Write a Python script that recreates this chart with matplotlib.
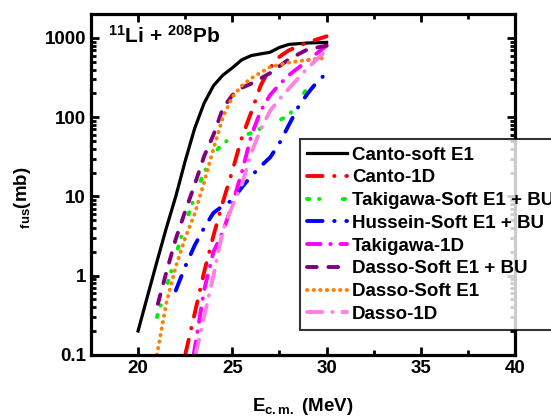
import matplotlib
matplotlib.use("Agg")
import matplotlib.pyplot as plt
from matplotlib.ticker import MultipleLocator, LogLocator, NullFormatter, FixedFormatter, FixedLocator

plt.rcParams["font.family"] = ["Liberation Sans", "DejaVu Sans"]
plt.rcParams["font.weight"] = "bold"
plt.rcParams["mathtext.fontset"] = "custom"
plt.rcParams["mathtext.rm"] = "Liberation Sans:bold"
plt.rcParams["mathtext.bf"] = "Liberation Sans:bold"
plt.rcParams["mathtext.it"] = "Liberation Sans:bold"
plt.rcParams["lines.dash_capstyle"] = "round"

# Canto-soft E1
canto_soft_x = [20, 20.5, 21, 21.5, 22, 22.5, 23, 23.5, 24, 24.5, 25, 25.5, 26, 26.5, 27, 27.5, 28, 29, 30]
canto_soft_y = [0.2, 0.55, 1.5, 4.0, 10, 28, 72, 150, 250, 340, 420, 530, 600, 630, 660, 760, 830, 865, 880]

# Canto-1D
canto_1d_x = [22.5, 23, 23.5, 24, 24.5, 25, 25.5, 26, 26.5, 27, 27.5, 28, 29, 30]
canto_1d_y = [0.1, 0.33, 1.1, 3.2, 8.5, 21, 55, 115, 250, 420, 580, 700, 880, 1050]

# Takigawa-Soft E1 + BU
tak_soft_x = [21.0, 21.5, 22, 22.5, 23, 23.5, 24, 24.5, 25, 25.5, 26, 26.5, 27, 27.5, 28, 28.5, 29.1]
tak_soft_y = [0.3, 0.7, 1.8, 4.5, 10, 20, 34, 47, 55, 58, 63, 72, 82, 92, 105, 160, 255]

# Hussein-Soft E1 + BU
hus_x = [22, 22.5, 23, 23.5, 24, 24.5, 25, 25.5, 26, 26.5, 27, 27.5, 28, 28.5, 29, 29.5, 30]
hus_y = [0.65, 1.3, 2.4, 4.0, 6.2, 7.6, 9.0, 13, 18, 24, 31, 47, 80, 135, 200, 280, 360]

# Takigawa-1D
tak_1d_x = [22.95, 23.5, 24, 24.5, 25, 25.5, 26, 26.5, 27, 27.5, 28, 29, 30]
tak_1d_y = [0.1, 0.65, 2.0, 3.6, 8.0, 20, 58, 120, 190, 260, 340, 520, 800]

# Dasso-Soft E1 + BU
dasso_soft_bu_x = [21.05, 21.5, 22, 22.5, 23, 23.5, 24, 24.5, 25, 25.5, 26, 27, 28, 29, 30]
dasso_soft_bu_y = [0.44, 1.1, 2.9, 6.5, 14, 32, 60, 130, 190, 235, 265, 360, 540, 720, 800]

# Dasso-Soft E1
dasso_soft_x = [21.0, 21.5, 22, 22.5, 23, 23.5, 24, 24.5, 25, 25.5, 26, 27, 28, 29, 30]
dasso_soft_y = [0.1, 0.45, 1.3, 3.0, 6.0, 15, 40, 100, 180, 250, 310, 430, 490, 530, 560]

# Dasso-1D
dasso_1d_x = [23.05, 23.5, 24, 24.5, 25, 25.5, 26, 26.5, 27, 27.5, 28, 29, 30]
dasso_1d_y = [0.1, 0.3, 1.0, 3.8, 7.5, 14, 35, 70, 120, 170, 230, 420, 700]

fig = plt.figure(figsize=(5.51, 4.16), dpi=100)
ax = fig.add_axes([0.165, 0.147, 0.77, 0.819])

lw = 2.8
ax.plot(canto_soft_x, canto_soft_y, color="black", lw=2.3, ls="-", label="Canto-soft E1")
ax.plot(canto_1d_x, canto_1d_y, color="#ff0000", lw=lw, ls=(0, (4, 3, 0.1, 3)), label="Canto-1D")
ax.plot(tak_soft_x, tak_soft_y, color="#00ee00", lw=lw, ls=(0, (0.6, 2.5, 0.1, 6)), label="Takigawa-Soft E1 + BU")
ax.plot(hus_x, hus_y, color="#0000ff", lw=lw, ls=(0, (4, 3, 0.1, 3)), label="Hussein-Soft E1 + BU")
ax.plot(tak_1d_x, tak_1d_y, color="#ff00ff", lw=lw, ls=(0, (3.5, 2.5, 0.1, 2.5)), label="Takigawa-1D")
ax.plot(dasso_soft_bu_x, dasso_soft_bu_y, color="#800080", lw=lw, ls=(0, (2.5, 3)), label="Dasso-Soft E1 + BU")
ax.plot(dasso_soft_x, dasso_soft_y, color="#ff8000", lw=lw, ls=(0, (0.1, 1.6)), label="Dasso-Soft E1")
ax.plot(dasso_1d_x, dasso_1d_y, color="#ff80e0", lw=lw, ls=(0, (4, 2.5, 0.1, 2.5)), label="Dasso-1D")

ax.set_yscale("log")
ax.set_xlim(17.5, 40)
ax.set_ylim(0.1, 2000)

ax.xaxis.set_major_locator(MultipleLocator(5))
ax.xaxis.set_minor_locator(MultipleLocator(2.5))
ax.yaxis.set_major_locator(FixedLocator([0.1, 1, 10, 100, 1000]))
ax.yaxis.set_major_formatter(FixedFormatter(["0.1", "1", "10", "100", "1000"]))
ax.yaxis.set_minor_locator(LogLocator(base=10, subs=range(2, 10)))
ax.yaxis.set_minor_formatter(NullFormatter())

ax.tick_params(which="both", direction="in", top=True, right=True, labelsize=13.5, width=2)
ax.tick_params(which="major", length=6)
ax.tick_params(which="minor", length=3.5)
for sp in ax.spines.values():
    sp.set_linewidth(2.3)

ax.set_xlabel(r"E$_{\mathbf{c.m.}}$ (MeV)", fontsize=13.5, fontweight="bold", labelpad=14)
ax.set_ylabel(r"$\ _{\mathbf{fus}}$(mb)", fontsize=13.5, fontweight="bold")
ax.yaxis.set_label_coords(-0.137, 0.455)

ax.text(0.04, 0.968, r"$^{\mathbf{11}}$Li + $^{\mathbf{208}}$Pb", transform=ax.transAxes,
        fontsize=15, fontweight="bold", va="top", ha="left")

leg = ax.legend(loc="upper left", bbox_to_anchor=(0.544, 0.666), bbox_transform=fig.transFigure,
                fontsize=13.5, frameon=True, fancybox=False, edgecolor="black",
                handlelength=2.1, handletextpad=0.3, labelspacing=0.3, borderpad=0.4,
                borderaxespad=0)
leg.get_frame().set_linewidth(1.5)

fig.savefig("out.png", dpi=100)
